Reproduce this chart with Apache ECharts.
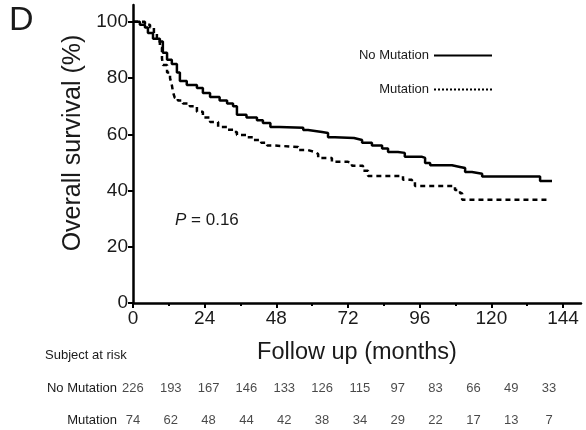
<!DOCTYPE html>
<html>
<head>
<meta charset="utf-8">
<script src="https://cdn.jsdelivr.net/npm/echarts@6/dist/echarts.min.js"></script>
<style>
  html, body { margin: 0; padding: 0; background: #fff; }
  #chart { width: 586px; height: 430px; }
</style>
</head>
<body>
<div id="chart"></div>
<script>
// Kaplan-Meier steps: month, overall survival (%)
const noMutTime = [0, 2.3, 4, 5, 6.7, 9, 10, 11.4, 13, 14.7, 15.7, 18, 21.4, 23.4, 25.8, 29, 31.5, 33.5, 34.8, 38, 41.5, 43.5, 46, 49, 57, 58.6, 63.3, 65.3, 67.6, 74, 76.7, 80, 83.4, 85.4, 88.7, 91, 96.8, 97.8, 99.5, 106.8, 109.5, 111.2, 113.5, 116.9, 136.3, 140.3];
const noMutSurv = [100, 99, 98, 96, 94, 93, 89, 86.5, 85, 82, 79, 77.5, 76.5, 74.7, 73.3, 72, 71, 70, 67, 66, 65, 64, 62.6, 62.3, 61.5, 60.8, 60.5, 59, 58.7, 58, 57, 56, 55, 53.7, 53.4, 52, 51.6, 49.8, 49, 48.4, 48, 46.6, 46, 45, 43.4, 43.4];
const mutTime = [0, 4, 5.7, 7, 8, 9, 9.7, 10, 11.4, 12.4, 13, 13.4, 14, 15, 16.7, 19, 21.4, 23.4, 25.8, 28.5, 31.5, 33.5, 34.8, 38.2, 40.2, 42.9, 44.9, 47.6, 55.3, 58.6, 61, 62, 66.6, 72, 73.3, 77, 78.7, 90.4, 93.4, 94.4, 107.8, 109.5, 110.2, 138.6];
const mutSurv = [100, 99, 98, 96, 93, 90.7, 87, 84.7, 82, 80, 77.6, 75, 73, 72, 71, 70, 68, 66, 64.4, 62.6, 61.6, 60.8, 59.8, 59, 58, 57, 56, 55.5, 54.4, 53.7, 53, 51.6, 50.2, 49.8, 48.8, 47, 45.2, 43.8, 43, 41.6, 40.2, 39, 36.7, 36.7];

const xTicks = [0, 24, 48, 72, 96, 120, 144];
const xMinorTicks = [12, 36, 60, 84, 108, 132];
const yTicks = [0, 20, 40, 60, 80, 100];

// numbers at risk
const riskRows = ['No Mutation', 'Mutation'];
const noMutRisk = [226, 193, 167, 146, 133, 126, 115, 97, 83, 66, 49, 33];
const mutRisk = [74, 62, 48, 44, 42, 38, 34, 29, 22, 17, 13, 7];

const FONT = 'Liberation Sans, Arial, sans-serif';
const INK = '#1a1a1a';

const zip = (a, b) => a.map((v, i) => [v, b[i]]);

const initChart = () => {
  const chart = echarts.init(document.getElementById('chart'));
  const riskCats = noMutRisk.map((v, i) => String(i));

  const option = {
    animation: false,
    textStyle: { fontFamily: FONT, color: INK },
    grid: [
      { left: 133, right: 5, top: 5, bottom: 127 },
      { left: 114, right: 18, top: 388, height: 32 }
    ],
    legend: {
      orient: 'vertical',
      align: 'right',
      right: 88,
      top: 44,
      itemWidth: 58,
      itemHeight: 10,
      itemGap: 21,
      itemStyle: { opacity: 0 },
      textStyle: { fontFamily: FONT, fontSize: 13, color: INK },
      data: [
        { name: 'No Mutation', lineStyle: { type: 'solid', width: 2 } },
        { name: 'Mutation', lineStyle: { type: 'dotted', width: 2 } }
      ]
    },
    xAxis: [
      {
        gridIndex: 0, type: 'value', min: 0, max: 150, position: 'bottom',
        name: 'Follow up (months)', nameLocation: 'middle', nameGap: 38,
        nameTextStyle: { fontFamily: FONT, fontSize: 23.5, color: INK },
        axisLine: { lineStyle: { color: '#000', width: 2.5 } },
        axisTick: { length: 5, customValues: xTicks, lineStyle: { color: '#000', width: 2 } },
        axisLabel: { customValues: xTicks, fontSize: 19, color: INK, margin: 6 },
        splitLine: { show: false }
      },
      {
        // minor ticks only
        gridIndex: 0, type: 'value', min: 0, max: 150, position: 'bottom',
        axisLine: { show: false },
        axisTick: { length: 3, customValues: xMinorTicks, lineStyle: { color: '#000', width: 2 } },
        axisLabel: { show: false },
        splitLine: { show: false }
      },
      {
        gridIndex: 1, type: 'category', data: riskCats,
        show: false
      }
    ],
    yAxis: [
      {
        gridIndex: 0, type: 'value', min: 0, max: 106,
        axisLine: { lineStyle: { color: '#000', width: 2.5 } },
        axisTick: { length: 5, customValues: yTicks, lineStyle: { color: '#000', width: 2 } },
        axisLabel: { customValues: yTicks, fontSize: 19, color: INK, margin: 5 },
        splitLine: { show: false }
      },
      {
        gridIndex: 1, type: 'category', data: riskRows, inverse: true, boundaryGap: false,
        axisLine: { show: false },
        axisTick: { show: false },
        axisLabel: { fontSize: 13, color: INK, margin: -3 },
        splitLine: { show: false }
      }
    ],
    series: [
      {
        name: 'No Mutation', type: 'line', step: 'end', symbol: 'none',
        xAxisIndex: 0, yAxisIndex: 0,
        lineStyle: { color: '#000', width: 2.5 },
        itemStyle: { color: '#000' },
        data: zip(noMutTime, noMutSurv)
      },
      {
        name: 'Mutation', type: 'line', step: 'end', symbol: 'none',
        xAxisIndex: 0, yAxisIndex: 0,
        lineStyle: { color: '#000', width: 2.5, type: [5, 4] },
        itemStyle: { color: '#000' },
        data: zip(mutTime, mutSurv)
      },
      {
        type: 'scatter', xAxisIndex: 2, yAxisIndex: 1, symbolSize: 0,
        label: {
          show: true, position: 'inside', fontSize: 13, color: INK,
          formatter: p => p.value[2]
        },
        data: noMutRisk.map((v, i) => [i, 0, v]).concat(mutRisk.map((v, i) => [i, 1, v]))
      }
    ],
    graphic: [
      {
        type: 'text', left: 9, top: 4,
        style: { text: 'D', font: '34px ' + FONT, fill: INK }
      },
      {
        type: 'text', x: 73, y: 143, rotation: Math.PI / 2,
        style: {
          text: 'Overall survival (%)', font: '25px ' + FONT, fill: INK,
          align: 'center', verticalAlign: 'middle'
        }
      },
      {
        type: 'text', left: 175, top: 212,
        style: {
          text: '{i|P} = 0.16',
          font: '17px ' + FONT, fill: INK,
          rich: { i: { fontStyle: 'italic', fontSize: 17, fontFamily: FONT, fill: INK } }
        }
      },
      {
        type: 'text', left: 45, top: 349,
        style: { text: 'Subject at risk', font: '13px ' + FONT, fill: INK }
      }
    ]
  };

  chart.setOption(option);
};

window.addEventListener('load', () => {
  initChart();
});
</script>
</body>
</html>
